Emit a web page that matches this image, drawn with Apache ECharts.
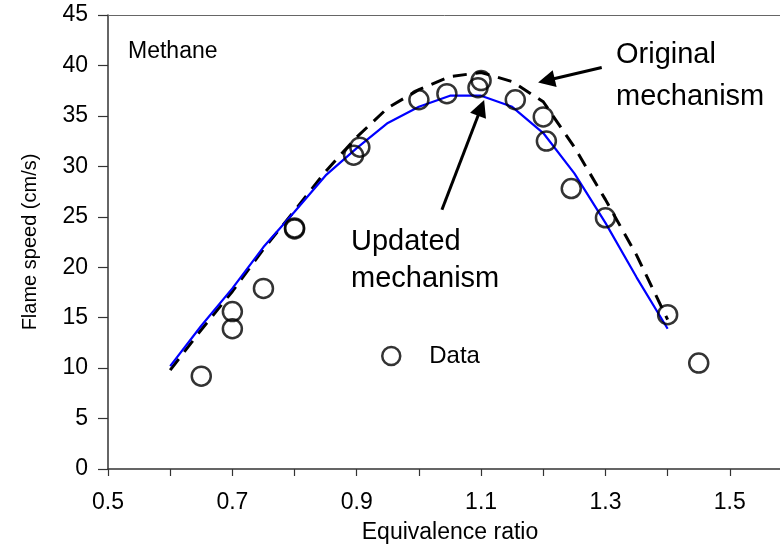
<!DOCTYPE html>
<html>
<head>
<meta charset="utf-8">
<script src="https://cdn.jsdelivr.net/npm/echarts@6/dist/echarts.min.js"></script>
<style>
  html, body { margin: 0; padding: 0; background: #fff; }
  #chart { width: 780px; height: 546px; }
</style>
</head>
<body>
<div id="chart"></div>
<script>
// Laminar flame speed of methane vs. equivalence ratio
const phiModel = [0.60, 0.65, 0.70, 0.75, 0.80, 0.85, 0.90, 0.95, 1.00, 1.05, 1.10, 1.15, 1.20, 1.25, 1.30, 1.35, 1.40];
const speedOriginal = [9.8, 13.8, 17.6, 21.8, 25.6, 29.5, 32.9, 35.8, 37.6, 38.9, 39.3, 38.4, 36.4, 31.9, 26.7, 21.2, 14.8];
const speedUpdated = [10.2, 14.2, 17.9, 22.0, 25.5, 29.1, 31.8, 34.3, 35.9, 37.0, 37.0, 35.9, 33.3, 29.3, 24.4, 19.0, 13.9];

const phiData = [0.65, 0.70, 0.70, 0.75, 0.80, 0.80, 0.895, 0.905, 1.00, 1.045, 1.095, 1.10, 1.155, 1.20, 1.205, 1.245, 1.30, 1.40, 1.45];
const speedData = [9.2, 15.6, 13.9, 17.9, 23.8, 23.9, 31.1, 31.9, 36.6, 37.2, 37.8, 38.5, 36.6, 34.9, 32.5, 27.8, 24.9, 15.3, 10.5];

// arrow annotations: [tail, head] in data coordinates
const arrowOriginal = [[1.294, 39.8], [1.205, 38.5]];
const arrowUpdated = [[1.037, 25.7], [1.100, 35.8]];

const FONT = 'Liberation Sans, Arial, sans-serif';
const pairs = (xs, ys) => xs.map((x, i) => [x, ys[i]]);

function arrowLine(seg) {
  return {
    silent: true,
    animation: false,
    symbol: ['none', 'triangle'],
    symbolSize: 17,
    label: { show: false },
    lineStyle: { color: '#000', width: 3, type: 'solid' },
    emphasis: { disabled: true },
    data: [[{ coord: seg[0] }, { coord: seg[1] }]]
  };
}

const chart = echarts.init(document.getElementById('chart'), null, { renderer: 'canvas' });
chart.setOption({
  animation: false,
  backgroundColor: '#fff',
  textStyle: { fontFamily: FONT },
  grid: {
    left: 108, top: 15, bottom: 77, right: -12,
    outerBoundsMode: 'none', containLabel: false,
    show: false
  },
  legend: {
    data: ['Data'],
    left: 381, top: 344, padding: 0,
    itemWidth: 18, itemHeight: 18,
    icon: 'circle',
    itemStyle: { color: 'rgba(0,0,0,0)', borderColor: '#000', borderWidth: 2.5 },
    textStyle: { fontFamily: FONT, fontSize: 24, color: '#000', padding: [0, 0, 0, 24] },
    selectedMode: false
  },
  xAxis: [
    {
      type: 'value', min: 0.5, max: 1.6, interval: 0.1,
      name: 'Equivalence ratio', nameLocation: 'middle', nameGap: 52,
      nameTextStyle: { fontFamily: FONT, fontSize: 23, color: '#000' },
      axisLine: { lineStyle: { color: '#333', width: 1.5 } },
      axisTick: { length: 7, lineStyle: { color: '#333', width: 1.2 } },
      axisLabel: {
        fontFamily: FONT, fontSize: 23, color: '#000', margin: 22, showMaxLabel: false,
        formatter: v => { const k = Math.round(v * 10); return (k % 2 === 1 && k < 16) ? v.toFixed(1) : ''; }
      },
      splitLine: { show: false }
    },
    {
      // plain frame line along the top of the plot area
      type: 'value', position: 'top', min: 0.5, max: 1.6,
      axisLine: { lineStyle: { color: '#666', width: 1 } },
      axisTick: { show: false }, axisLabel: { show: false }, splitLine: { show: false }
    }
  ],
  yAxis: {
    type: 'value', min: 0, max: 45, interval: 5,
    name: 'Flame speed (cm/s)', nameLocation: 'middle', nameGap: 68,
    nameTextStyle: { fontFamily: FONT, fontSize: 20, color: '#000' },
    axisLine: { lineStyle: { color: '#333', width: 1.5 } },
    axisTick: { length: 10, lineStyle: { color: '#333', width: 1.2 } },
    axisLabel: { fontFamily: FONT, fontSize: 23, color: '#000', margin: 20 },
    splitLine: { show: false }
  },
  series: [
    {
      name: 'Original mechanism', type: 'line', z: 2,
      data: pairs(phiModel, speedOriginal),
      symbol: 'none', silent: true,
      lineStyle: { color: '#000', width: 3, type: [14, 9] },
      markLine: arrowLine(arrowOriginal)
    },
    {
      name: 'Updated mechanism', type: 'line', z: 3,
      data: pairs(phiModel, speedUpdated),
      symbol: 'none', silent: true,
      lineStyle: { color: '#0000ff', width: 2.2 },
      markLine: arrowLine(arrowUpdated)
    },
    {
      name: 'Data', type: 'scatter', z: 4,
      data: pairs(phiData, speedData),
      symbol: 'circle', symbolSize: 19, silent: true,
      itemStyle: { color: 'rgba(0,0,0,0)', borderColor: '#000', borderWidth: 2.5 }
    }
  ],
  graphic: [
    { type: 'text', left: 128, top: 40, silent: true,
      style: { text: 'Methane', font: '23px ' + FONT, fill: '#000' } },
    { type: 'text', x: 616, y: 34, silent: true,
      style: { text: 'Original\nmechanism', font: '29px ' + FONT, lineHeight: 42, fill: '#000', verticalAlign: 'top' } },
    { type: 'text', x: 351, y: 223, silent: true,
      style: { text: 'Updated\nmechanism', font: '29px ' + FONT, lineHeight: 37, fill: '#000', verticalAlign: 'top' } }
  ]
});
</script>
</body>
</html>
